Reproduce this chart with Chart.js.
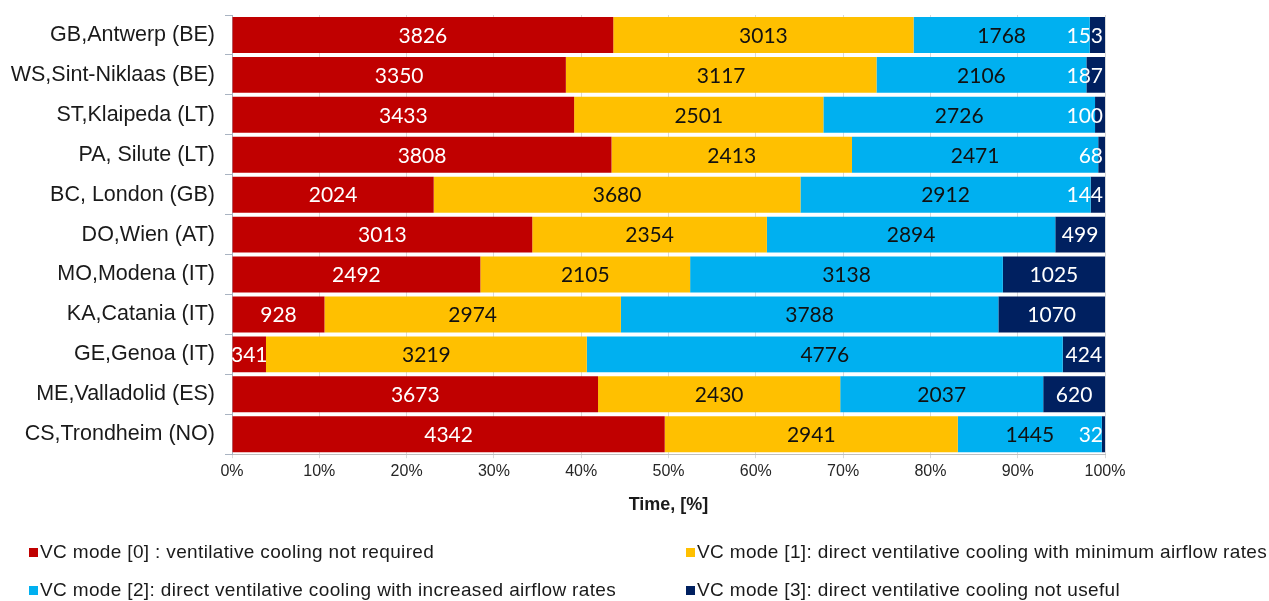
<!DOCTYPE html>
<html>
<head>
<meta charset="utf-8">
<script src="https://cdn.jsdelivr.net/npm/chart.js@4.4.1/dist/chart.umd.min.js"></script>
<style>
    body { margin: 0; background: #fff; }
    .wrap { position: relative; width: 1269px; height: 601px; }
    .legend-item { position: absolute; font-family: "Liberation Sans", Arial, sans-serif; font-size: 19px; letter-spacing: 0.35px; color: #1a1a1a; white-space: nowrap; line-height: 20px; }
    .legend-item span.box { display: inline-block; width: 9px; height: 9px; margin-right: 2px; vertical-align: 1px; }
</style>
</head>
<body>
<div class="wrap">
    <canvas id="chart" width="1269" height="601"></canvas>
    <div id="legend"></div>
</div>
<script>
const cities = [
    'GB,Antwerp (BE)', 'WS,Sint-Niklaas (BE)', 'ST,Klaipeda (LT)', 'PA, Silute (LT)',
    'BC, London (GB)', 'DO,Wien (AT)', 'MO,Modena (IT)', 'KA,Catania (IT)',
    'GE,Genoa (IT)', 'ME,Valladolid (ES)', 'CS,Trondheim (NO)'
]

// hours per year in each mode
const mode_0 = [3826, 3350, 3433, 3808, 2024, 3013, 2492, 928, 341, 3673, 4342]
const mode_1 = [3013, 3117, 2501, 2413, 3680, 2354, 2105, 2974, 3219, 2430, 2941]
const mode_2 = [1768, 2106, 2726, 2471, 2912, 2894, 3138, 3788, 4776, 2037, 1445]
const mode_3 = [153, 187, 100, 68, 144, 499, 1025, 1070, 424, 620, 32]

const mode_labels = [
    'VC mode [0] : ventilative cooling not required',
    'VC mode [1]: direct ventilative cooling with minimum airflow rates',
    'VC mode [2]: direct ventilative cooling with increased airflow rates',
    'VC mode [3]: direct ventilative cooling not useful'
]
const mode_colors = ['#C00000', '#FFC000', '#00B0F0', '#002060']
const label_colors = ['#fff', '#111', '#111', '#fff']

const x_ticks = [0, 10, 20, 30, 40, 50, 60, 70, 80, 90, 100]

const modes = [mode_0, mode_1, mode_2, mode_3]
const totals = cities.map((c, i) => modes.reduce((sum, m) => sum + m[i], 0))

const datasets = modes.map((hours, k) => ({
    label: mode_labels[k],
    data: hours.map((h, i) => h / totals[i] * 100),
    hours: hours,
    backgroundColor: mode_colors[k],
    borderWidth: 0,
    barPercentage: 1,
    categoryPercentage: 0.9,
}))

// draws hour counts in the middle of each segment, kept inside the plot on the right
const bar_values = {
    id: 'bar_values',
    afterDatasetsDraw(chart) {
        const ctx = chart.ctx
        const area = chart.chartArea
        ctx.save()
        ctx.font = '21px Lato, "Open Sans", sans-serif'
        ctx.textAlign = 'center'
        ctx.textBaseline = 'middle'
        chart.data.datasets.forEach((ds, k) => {
            const meta = chart.getDatasetMeta(k)
            meta.data.forEach((bar, i) => {
                const { x, base, y } = bar.getProps(['x', 'base', 'y'], true)
                const text = String(ds.hours[i])
                const w = ctx.measureText(text).width
                let cx = (x + base) / 2
                if (cx + w / 2 > area.right - 2) cx = area.right - 2 - w / 2
                ctx.fillStyle = label_colors[k]
                ctx.fillText(text, cx, y + 1)
            })
        })
        ctx.restore()
    }
}

new Chart(document.getElementById('chart'), {
    type: 'bar',
    data: { labels: cities, datasets },
    plugins: [bar_values],
    options: {
        indexAxis: 'y',
        responsive: false,
        animation: false,
        layout: { padding: { top: 15, right: 164, bottom: 85, left: 0 } },
        plugins: {
            legend: { display: false },
            tooltip: { enabled: false }
        },
        scales: {
            x: {
                stacked: true,
                min: 0,
                max: 100,
                afterBuildTicks: scale => { scale.ticks = x_ticks.map(v => ({ value: v })) },
                ticks: {
                    callback: v => v + '%',
                    font: { family: '"Liberation Sans", Arial', size: 16 },
                    color: '#262626',
                    padding: 4,
                    maxRotation: 0
                },
                grid: { color: '#d9d9d9', tickLength: 4 },
                border: { color: '#bfbfbf' },
                title: {
                    display: true,
                    text: 'Time, [%]',
                    font: { family: '"Liberation Sans", Arial', size: 18, weight: 'bold' },
                    color: '#1a1a1a',
                    padding: { top: 9, bottom: 0 }
                }
            },
            y: {
                stacked: true,
                afterFit: scale => {
                    scale.width = 232
                    scale.paddingTop = 0
                    scale.paddingBottom = 0
                },
                ticks: {
                    font: { family: '"Liberation Sans", Arial', size: 21.5 },
                    color: '#1a1a1a',
                    padding: 10
                },
                grid: { offset: true, drawOnChartArea: false, tickLength: 7, color: '#a9b4c2' },
                border: { color: '#a9b4c2' }
            }
        }
    }
})

// html legend, two columns like the original
const legend_pos = [[29, 542], [686, 542], [29, 580], [686, 580]]
const legend = document.getElementById('legend')
mode_labels.forEach((label, k) => {
    const item = document.createElement('div')
    item.className = 'legend-item'
    item.style.left = legend_pos[k][0] + 'px'
    item.style.top = legend_pos[k][1] + 'px'
    item.innerHTML = `<span class="box" style="background:${mode_colors[k]}"></span>${label}`
    legend.appendChild(item)
})
</script>
</body>
</html>
